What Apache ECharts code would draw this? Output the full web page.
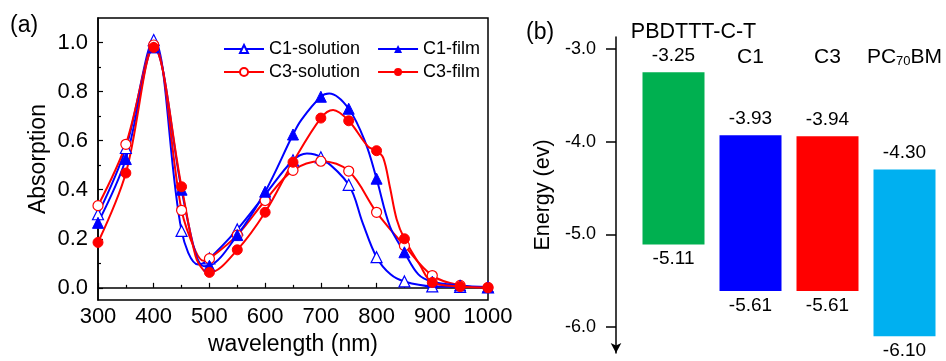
<!DOCTYPE html>
<html>
<head>
<meta charset="utf-8">
<script src="https://cdn.jsdelivr.net/npm/echarts@6/dist/echarts.min.js"></script>
<style>
  html, body { margin: 0; padding: 0; background: #fff; }
  #chart { width: 946px; height: 361px; }
</style>
</head>
<body>
<div id="chart"></div>
<script>
const FONT = "'Liberation Sans', Arial, sans-serif";

// (a) absorption spectra, markers sit on every 50 nm point
const c1SolWl = [300, 350, 400, 450, 480, 500, 550, 600, 650, 675, 700, 750, 775, 800, 825, 850, 900, 950, 1000];
const c1SolAbs = [0.30, 0.57, 1.01, 0.232, 0.095, 0.12, 0.238, 0.38, 0.52, 0.548, 0.532, 0.42, 0.265, 0.125, 0.055, 0.026, 0.006, 0.004, 0.002];

const c1FilmWl = [300, 350, 400, 450, 475, 490, 500, 550, 600, 650, 665, 700, 715, 750, 780, 800, 824, 850, 875, 900, 950, 1000];
const c1FilmAbs = [0.265, 0.525, 0.98, 0.40, 0.14, 0.088, 0.09, 0.215, 0.392, 0.625, 0.685, 0.779, 0.792, 0.73, 0.592, 0.445, 0.25, 0.145, 0.055, 0.025, 0.01, 0.003];

const c3SolWl = [300, 350, 400, 450, 475, 490, 500, 550, 600, 650, 700, 750, 800, 850, 900, 950, 1000];
const c3SolAbs = [0.335, 0.585, 0.99, 0.316, 0.15, 0.11, 0.119, 0.215, 0.356, 0.479, 0.516, 0.476, 0.308, 0.172, 0.05, 0.01, 0.002];

const c3FilmWl = [300, 350, 400, 450, 475, 490, 500, 550, 600, 650, 700, 722, 750, 785, 800, 812, 824, 836, 850, 878, 900, 950, 1000];
const c3FilmAbs = [0.185, 0.468, 0.98, 0.412, 0.13, 0.07, 0.063, 0.155, 0.308, 0.512, 0.692, 0.725, 0.681, 0.575, 0.559, 0.53, 0.41, 0.28, 0.20, 0.092, 0.022, 0.005, 0.0];

const absTicks = [0, 0.2, 0.4, 0.6, 0.8, 1.0];
const absMinorTicks = [0.1, 0.3, 0.5, 0.7, 0.9];

// (b) energy levels
const levelNames = ['PBDTTT-C-T', 'C1', 'C3', 'PC70BM'];
const lumo = [-3.25, -3.93, -3.94, -4.30];
const homo = [-5.11, -5.61, -5.61, -6.10];
const energyTicks = [-6, -5, -4, -3];

const levelColors = ['#00b050', '#0000ff', '#ff0000', '#00b0f0'];

function pts(wl, vals) {
  return wl.map((x, i) => {
    const item = { value: [x, vals[i]] };
    if (x % 50 !== 0) item.symbol = 'none';
    return item;
  });
}

function spectrum(name, wl, vals, color, symbol, open) {
  return {
    name: name,
    type: 'line',
    xAxisIndex: 0,
    yAxisIndex: 0,
    smooth: 0.35,
    showAllSymbol: true,
    symbol: symbol,
    symbolSize: symbol === 'triangle' ? 11 : 10,
    lineStyle: { color: color, width: 2 },
    itemStyle: open
      ? { color: '#fff', borderColor: color, borderWidth: 1.2 }
      : { color: color, borderColor: color },
    emphasis: { disabled: true },
    data: pts(wl, vals)
  };
}

const chart = echarts.init(document.getElementById('chart'));

const axisText = { color: '#000', fontFamily: FONT };
const legendBase = {
  left: 223, itemWidth: 40, itemHeight: 10, itemGap: 17, padding: 0,
  selectedMode: false,
  textStyle: { fontSize: 18, color: '#000', fontFamily: FONT }
};

const option = {
  animation: false,
  backgroundColor: '#fff',
  textStyle: { fontFamily: FONT, color: '#000' },
  title: [
    { text: '(a)', left: 10, top: 14, padding: 0, textStyle: { fontSize: 23, fontWeight: 'normal', color: '#000', fontFamily: FONT } },
    { text: '(b)', left: 526, top: 21, padding: 0, textStyle: { fontSize: 23, fontWeight: 'normal', color: '#000', fontFamily: FONT } }
  ],
  legend: [
    Object.assign({ data: ['C1-solution', 'C1-film'], top: 40 }, legendBase),
    Object.assign({ data: ['C3-solution', 'C3-film'], top: 63 }, legendBase)
  ],
  grid: [
    { left: 98, right: 458, top: 18, bottom: 55, show: true, borderColor: '#000', borderWidth: 1.5 },
    { left: 635, right: 3, top: 37, bottom: 8 }
  ],
  xAxis: [
    {
      gridIndex: 0,
      type: 'value',
      min: 300,
      max: 1000,
      interval: 100,
      name: 'wavelength (nm)',
      nameLocation: 'middle',
      nameGap: 25,
      nameTextStyle: Object.assign({ fontSize: 23 }, axisText),
      axisLine: { lineStyle: { color: '#000', width: 1.5 } },
      axisTick: { inside: true, length: 5, lineStyle: { color: '#000', width: 1.2 } },
      minorTick: { show: true, splitNumber: 2, length: 3, lineStyle: { color: '#000', width: 1.2 } },
      axisLabel: Object.assign({ fontSize: 22, margin: 6, formatter: v => String(v) }, axisText),
      splitLine: { show: false }
    },
    {
      gridIndex: 1,
      type: 'category',
      position: 'top',
      data: levelNames.map((n, i) => i === 0
        ? { value: n, textStyle: { fontSize: 21.5, padding: [0, 0, 25, 40] } }
        : n),
      axisLine: { show: false },
      axisTick: { show: false },
      axisLabel: Object.assign({
        interval: 0,
        fontSize: 21,
        margin: -31,
        formatter: v => v === 'PC70BM' ? '{n|PC}{s|70}{n|BM}' : v,
        rich: {
          n: { fontSize: 21, color: '#000', fontFamily: FONT },
          s: { fontSize: 13, color: '#000', fontFamily: FONT, verticalAlign: 'bottom', padding: [9, 0, 0, 0] }
        }
      }, axisText)
    }
  ],
  yAxis: [
    {
      gridIndex: 0,
      type: 'value',
      min: -0.05,
      max: 1.1,
      name: 'Absorption',
      nameLocation: 'middle',
      nameGap: 48,
      nameTextStyle: Object.assign({ fontSize: 23 }, axisText),
      axisLine: { show: true, lineStyle: { color: '#000', width: 1.5 } },
      axisTick: { show: true, inside: true, length: 5, customValues: absTicks, lineStyle: { color: '#000', width: 1.2 } },
      axisLabel: Object.assign({ fontSize: 22, margin: 10, customValues: absTicks, formatter: v => v.toFixed(1) }, axisText),
      splitLine: { show: false }
    },
    {
      gridIndex: 0,
      type: 'value',
      min: -0.05,
      max: 1.1,
      position: 'left',
      axisLine: { show: false },
      axisTick: { show: true, inside: true, length: 3, customValues: absMinorTicks, lineStyle: { color: '#000', width: 1.2 } },
      axisLabel: { show: false },
      splitLine: { show: false }
    },
    {
      gridIndex: 1,
      type: 'value',
      min: -6.28,
      max: -2.87,
      position: 'left',
      offset: 19,
      name: 'Energy (ev)',
      nameLocation: 'middle',
      nameGap: 62,
      nameTextStyle: Object.assign({ fontSize: 21.5 }, axisText),
      axisLine: { show: true, symbol: ['arrow', 'none'], symbolSize: [8, 10], lineStyle: { color: '#000', width: 1.5 } },
      axisTick: { show: true, length: 10, customValues: energyTicks, lineStyle: { color: '#000', width: 1.5 } },
      axisLabel: Object.assign({ fontSize: 18, margin: 20, customValues: energyTicks, formatter: v => v.toFixed(1) }, axisText),
      splitLine: { show: false }
    }
  ],
  series: [
    spectrum('C1-solution', c1SolWl, c1SolAbs, '#0000ff', 'triangle', true),
    spectrum('C3-solution', c3SolWl, c3SolAbs, '#ff0000', 'circle', true),
    spectrum('C1-film', c1FilmWl, c1FilmAbs, '#0000ff', 'triangle', false),
    spectrum('C3-film', c3FilmWl, c3FilmAbs, '#ff0000', 'circle', false),
    {
      type: 'bar',
      xAxisIndex: 1,
      yAxisIndex: 2,
      stack: 'level',
      barWidth: 62,
      silent: true,
      itemStyle: { color: 'rgba(0,0,0,0)' },
      label: {
        show: true,
        position: 'insideBottom',
        distance: 7,
        fontSize: 19,
        color: '#000',
        fontFamily: FONT,
        formatter: p => lumo[p.dataIndex].toFixed(2)
      },
      data: lumo
    },
    {
      type: 'bar',
      xAxisIndex: 1,
      yAxisIndex: 2,
      stack: 'level',
      barWidth: 62,
      silent: true,
      itemStyle: { color: p => levelColors[p.dataIndex] },
      label: {
        show: true,
        position: 'bottom',
        distance: 5,
        fontSize: 19,
        color: '#000',
        fontFamily: FONT,
        formatter: p => homo[p.dataIndex].toFixed(2)
      },
      data: homo.map((h, i) => h - lumo[i])
    }
  ]
};

chart.setOption(option);
</script>
</body>
</html>
